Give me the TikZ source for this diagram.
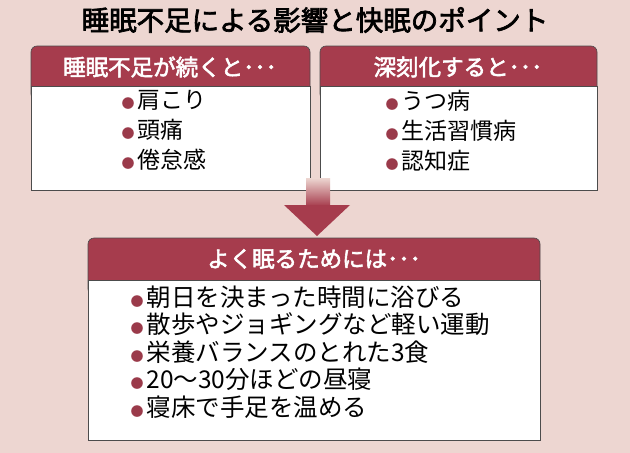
\documentclass[tikz,border=0pt]{standalone}
\usepackage{fontspec}
\setmainfont{Noto Sans CJK JP}
\newfontfamily\jpb[FakeBold=2.5]{Noto Sans CJK JP}
\definecolor{bg}{HTML}{EDD6D1}
\definecolor{hd}{HTML}{A63C4D}
\definecolor{bul}{HTML}{9A3A4A}
\newcommand{\bl}{\textcolor{bul}{\fontsize{13}{13}\selectfont ●}\hspace{3pt}}
\begin{document}
\begin{tikzpicture}[x=1pt,y=-1pt,
  hdr/.style={fill=hd,draw=black!70,line width=0.6pt,rounded corners=6pt},
  bodybox/.style={fill=white,draw=black!70,line width=0.6pt},
  htext/.style={text=white,font=\jpb\fontsize{22.5}{26}\selectfont},
  items/.style={font=\fontsize{23}{30}\selectfont,align=left,anchor=north west}]
\fill[bg] (0,0) rectangle (630,453);
\node (title) at (315,20) {\jpb\fontsize{27.5}{30}\selectfont 睡眠不足による影響と快眠のポイント};
% box 1
\path[hdr] (31,46) rectangle (310,100);
\draw[bodybox] (31,86) rectangle (310,190);
\node[htext] (h1) at (170,67) {睡眠不足が続くと･･･};
\node[items] (i1) at (118,87) {\bl 肩こり\\\bl 頭痛\\\bl 倦怠感};
% box 2
\path[hdr] (320,46) rectangle (597,100);
\draw[bodybox] (320,86) rectangle (597,190);
\node[htext] (h2) at (458,67) {深刻化すると･･･};
\node[items] (i2) at (382,87) {\bl うつ病\\\bl 生活習慣病\\\bl 認知症};
% arrow
\shade[top color=bg,bottom color=hd] (306,178) rectangle (330,206);
\fill[hd] (284,205) -- (350,205) -- (317,236) -- cycle;
% box 3
\path[hdr] (88,238) rectangle (540,295);
\draw[bodybox] (88,280) rectangle (540,440);
\node[htext] (h3) at (314,259) {よく眠るためには･･･};
\node[items,font=\fontsize{24.5}{27.5}\selectfont] (i3) at (127,282) {\bl 朝日を決まった時間に浴びる\\\bl 散歩やジョギングなど軽い運動\\\bl 栄養バランスのとれた3食\\\bl 20～30分ほどの昼寝\\\bl 寝床で手足を温める};
\end{tikzpicture}
\end{document}
